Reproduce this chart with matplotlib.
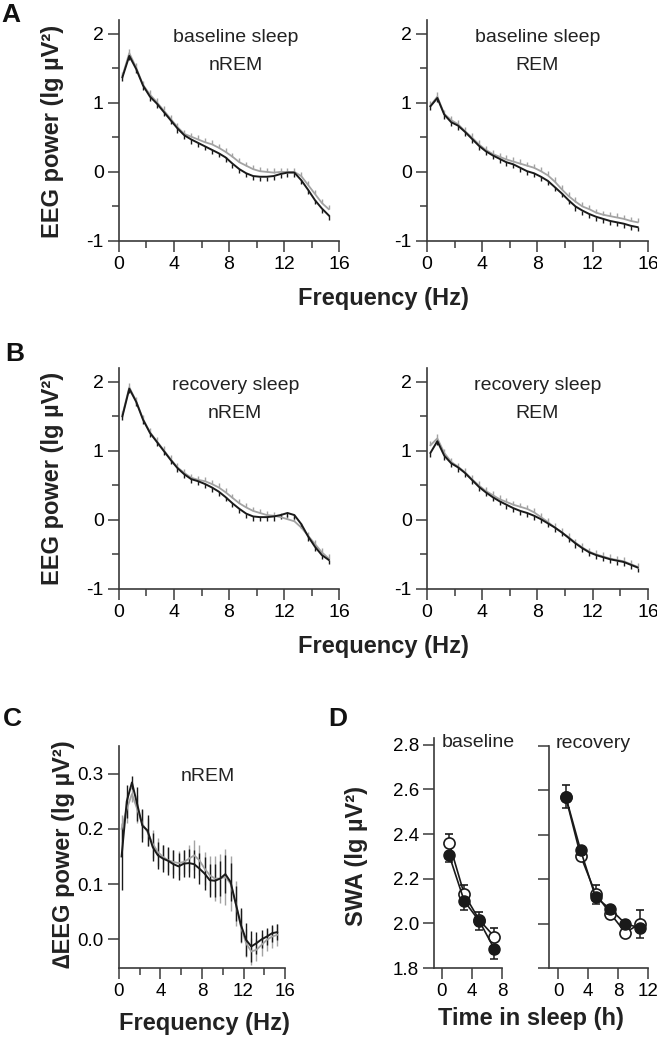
import numpy as np
import matplotlib.pyplot as plt
from matplotlib.ticker import MultipleLocator

plt.rcParams['font.family'] = ['Liberation Sans Narrow', 'Liberation Sans', 'DejaVu Sans']
plt.rcParams['axes.unicode_minus'] = False

# frequency bins (Hz)
freq = [0.25, 0.75, 1.25, 1.75, 2.25, 2.75, 3.25, 3.75, 4.25, 4.75, 5.25, 5.75, 6.25, 6.75, 7.25, 7.75,
        8.25, 8.75, 9.25, 9.75, 10.25, 10.75, 11.25, 11.75, 12.25, 12.75, 13.25, 13.75, 14.25, 14.75, 15.25]

# A: baseline sleep
base_nrem_black = [1.37, 1.68, 1.49, 1.25, 1.09, 0.99, 0.87, 0.75, 0.63, 0.53, 0.47, 0.42, 0.37, 0.32, 0.27, 0.21,
                   0.12, 0.04, -0.02, -0.06, -0.07, -0.07, -0.06, -0.03, -0.01, -0.01, -0.12, -0.26, -0.41, -0.53, -0.63]
base_nrem_gray = [1.39, 1.72, 1.51, 1.26, 1.12, 1.01, 0.89, 0.77, 0.65, 0.55, 0.51, 0.47, 0.43, 0.40, 0.35, 0.29,
                  0.22, 0.14, 0.09, 0.04, 0.01, 0.00, -0.01, 0.00, 0.00, 0.00, -0.06, -0.19, -0.32, -0.45, -0.54]
base_rem_black = [0.95, 1.07, 0.83, 0.72, 0.67, 0.58, 0.48, 0.38, 0.30, 0.24, 0.19, 0.14, 0.11, 0.06, 0.01, -0.02,
                  -0.07, -0.13, -0.22, -0.31, -0.41, -0.50, -0.56, -0.61, -0.65, -0.68, -0.71, -0.73, -0.75, -0.78, -0.80]
base_rem_gray = [0.96, 1.09, 0.84, 0.75, 0.69, 0.59, 0.50, 0.40, 0.32, 0.26, 0.22, 0.18, 0.15, 0.12, 0.09, 0.06,
                 0.01, -0.05, -0.14, -0.25, -0.35, -0.43, -0.50, -0.54, -0.59, -0.62, -0.64, -0.66, -0.68, -0.71, -0.73]

# B: recovery sleep
rec_nrem_black = [1.50, 1.90, 1.71, 1.45, 1.26, 1.13, 1.00, 0.87, 0.75, 0.66, 0.59, 0.56, 0.52, 0.47, 0.41, 0.33,
                  0.24, 0.16, 0.09, 0.05, 0.04, 0.04, 0.05, 0.07, 0.10, 0.07, -0.06, -0.24, -0.39, -0.51, -0.58]
rec_nrem_gray = [1.52, 1.92, 1.72, 1.46, 1.27, 1.14, 1.01, 0.88, 0.76, 0.68, 0.61, 0.58, 0.56, 0.52, 0.47, 0.40,
                 0.32, 0.24, 0.18, 0.13, 0.10, 0.07, 0.06, 0.04, 0.01, -0.02, -0.11, -0.23, -0.35, -0.47, -0.56]
rec_rem_black = [0.97, 1.14, 0.93, 0.82, 0.76, 0.68, 0.58, 0.48, 0.40, 0.33, 0.27, 0.22, 0.17, 0.13, 0.10, 0.06,
                 0.01, -0.05, -0.11, -0.18, -0.26, -0.34, -0.41, -0.47, -0.51, -0.54, -0.57, -0.59, -0.61, -0.65, -0.69]
rec_rem_gray = [1.08, 1.18, 0.97, 0.84, 0.77, 0.69, 0.59, 0.50, 0.42, 0.36, 0.30, 0.26, 0.22, 0.19, 0.16, 0.11,
                0.04, -0.03, -0.11, -0.18, -0.25, -0.33, -0.40, -0.46, -0.50, -0.53, -0.56, -0.58, -0.60, -0.64, -0.68]

sem_black = 0.06
sem_gray = 0.06

# C: recovery - baseline, nREM
delta_black = [0.150, 0.250, 0.284, 0.245, 0.206, 0.197, 0.167, 0.152, 0.146, 0.142, 0.136, 0.132, 0.137, 0.138, 0.136, 0.128,
               0.119, 0.107, 0.106, 0.110, 0.118, 0.104, 0.065, 0.026, -0.001, -0.013, -0.007, 0.000, 0.005, 0.011, 0.013]
delta_gray = [0.200, 0.236, 0.263, 0.236, 0.209, 0.194, 0.173, 0.158, 0.149, 0.143, 0.140, 0.138, 0.140, 0.146, 0.152, 0.143,
              0.128, 0.116, 0.110, 0.110, 0.113, 0.101, 0.065, 0.023, -0.007, -0.022, -0.019, -0.010, -0.001, 0.005, 0.008]
delta_black_err = [0.060, 0.030, 0.012, 0.030, 0.030, 0.028, 0.025, 0.025, 0.025, 0.025, 0.025, 0.025, 0.025, 0.025, 0.025, 0.028,
                   0.030, 0.030, 0.030, 0.032, 0.035, 0.035, 0.032, 0.030, 0.030, 0.028, 0.020, 0.016, 0.015, 0.015, 0.015]
delta_gray_err = [0.025, 0.025, 0.015, 0.025, 0.025, 0.025, 0.025, 0.025, 0.022, 0.022, 0.022, 0.022, 0.022, 0.025, 0.027, 0.027,
                  0.030, 0.035, 0.040, 0.045, 0.050, 0.050, 0.040, 0.030, 0.025, 0.025, 0.020, 0.020, 0.020, 0.020, 0.020]

# D: SWA time course
t_base = [1, 3, 5, 7]
swa_base_open = [2.36, 2.13, 2.015, 1.94]
swa_base_filled = [2.305, 2.10, 2.01, 1.885]
err_base_open = [0.04, 0.04, 0.035, 0.04]
err_base_filled = [0.03, 0.04, 0.04, 0.045]
t_rec = [1, 3, 5, 7, 9, 11]
swa_rec_open = [2.57, 2.305, 2.135, 2.045, 1.96, 2.00]
swa_rec_filled = [2.572, 2.33, 2.12, 2.065, 2.00, 1.98]
err_rec_open = [0.055, 0.02, 0.04, 0.02, 0.02, 0.06]
err_rec_filled = [0.05, 0.02, 0.03, 0.02, 0.02, 0.045]

BLACK = '#1a1a1a'
GRAY = '#a3a3a3'
AXC = '#3a3a3a'
TICK = 14


def style(ax):
    for s in ['top', 'right']:
        ax.spines[s].set_visible(False)
    for s in ['left', 'bottom']:
        ax.spines[s].set_color(AXC)
        ax.spines[s].set_linewidth(1.2)
    ax.tick_params(which='major', length=8, width=1.1, color=AXC, labelsize=TICK, pad=3)
    ax.tick_params(which='minor', length=5, width=1.1, color=AXC)


def spectrum(ax, black, gray, line1, line2, tx):
    n = len(freq)
    ax.errorbar(freq, gray, yerr=[np.zeros(n), np.full(n, sem_gray)], color=GRAY, lw=1.3,
                elinewidth=1.0, capsize=0)
    ax.errorbar(freq, black, yerr=[np.full(n, sem_black), np.zeros(n)], color=BLACK, lw=1.4,
                elinewidth=1.0, capsize=0)
    ax.set_xlim(0, 16)
    ax.set_ylim(-1, 2.2)
    ax.set_xticks([0, 4, 8, 12, 16])
    ax.set_yticks([-1, 0, 1, 2])
    ax.xaxis.set_minor_locator(MultipleLocator(2))
    ax.yaxis.set_minor_locator(MultipleLocator(0.5))
    style(ax)
    ax.text(tx, 1.95, line1, ha='center', va='center', fontsize=14, color='#222222')
    ax.text(tx, 1.54, line2, ha='center', va='center', fontsize=14, color='#222222')


fig = plt.figure(figsize=(6.57, 10.4), dpi=100)

axA1 = fig.add_axes([0.1811, 0.7683, 0.3350, 0.2125])
axA2 = fig.add_axes([0.6499, 0.7683, 0.3364, 0.2125])
axB1 = fig.add_axes([0.1811, 0.4337, 0.3350, 0.2125])
axB2 = fig.add_axes([0.6499, 0.4337, 0.3364, 0.2125])

spectrum(axA1, base_nrem_black, base_nrem_gray, 'baseline sleep', 'nREM', 8.5)
spectrum(axA2, base_rem_black, base_rem_gray, 'baseline sleep', 'REM', 8.0)
spectrum(axB1, rec_nrem_black, rec_nrem_gray, 'recovery sleep', 'nREM', 8.45)
spectrum(axB2, rec_rem_black, rec_rem_gray, 'recovery sleep', 'REM', 8.0)

# C
axC = fig.add_axes([0.1811, 0.0692, 0.2527, 0.2135])
axC.errorbar(freq, delta_gray, yerr=delta_gray_err, color=GRAY, lw=1.3, elinewidth=1.0, capsize=0)
axC.errorbar(freq, delta_black, yerr=delta_black_err, color=BLACK, lw=1.4, elinewidth=1.0, capsize=0)
axC.set_xlim(0, 16)
axC.set_ylim(-0.052, 0.35)
axC.set_xticks([0, 4, 8, 12, 16])
axC.set_yticks([0.0, 0.1, 0.2, 0.3])
axC.set_yticklabels(['0.0', '0.1', '0.2', '0.3'])
axC.xaxis.set_minor_locator(MultipleLocator(2))
style(axC)
axC.tick_params(labelsize=13.5)
axC.text(8.6, 0.295, 'nREM', ha='center', va='center', fontsize=14, color='#222222')

# D
axD1 = fig.add_axes([0.6613, 0.0692, 0.1027, 0.2212])
axD2 = fig.add_axes([0.8356, 0.0692, 0.1502, 0.2135])


def swa(ax, t, yo, yf, eo, ef):
    ax.errorbar(t, yo, yerr=[np.zeros(len(t)), eo], color=BLACK, lw=1.2, elinewidth=1.1,
                capsize=3, capthick=1.1, marker='o', ms=8, mfc='white', mec=BLACK, mew=1.2, zorder=2)
    ax.errorbar(t, yf, yerr=[ef, np.zeros(len(t))], color=BLACK, lw=1.2, elinewidth=1.1,
                capsize=3, capthick=1.1, marker='o', ms=8, mfc=BLACK, mec=BLACK, zorder=3)
    style(ax)
    ax.tick_params(labelsize=13.5)


swa(axD1, t_base, swa_base_open, swa_base_filled, err_base_open, err_base_filled)
swa(axD2, t_rec, swa_rec_open, swa_rec_filled, err_rec_open, err_rec_filled)
axD1.set_xlim(-0.95, 8)
axD1.set_ylim(1.8, 2.83)
axD1.set_xticks([0, 4, 8])
axD1.set_yticks([1.8, 2.0, 2.2, 2.4, 2.6, 2.8])
axD1.set_yticklabels(['1.8', '2.0', '2.2', '2.4', '2.6', '2.8'])
axD2.set_xlim(-1.25, 12)
axD2.set_ylim(1.8, 2.8)
axD2.set_xticks([0, 4, 8, 12])
axD2.set_yticks([1.8, 2.0, 2.2, 2.4, 2.6, 2.8])
axD2.set_yticklabels([])
axD1.text(4.8, 2.81, 'baseline', ha='center', va='center', fontsize=14, color='#222222')
axD2.text(4.7, 2.81, 'recovery', ha='center', va='center', fontsize=14, color='#222222')

# axis labels
lab = dict(fontsize=17, fontweight='bold', color='#222222', ha='center', va='center')
fig.text(0.0806, 0.874, 'EEG power (lg µV²)', rotation=90, **lab)
fig.text(0.0806, 0.540, 'EEG power (lg µV²)', rotation=90, **lab)
fig.text(0.0959, 0.1788, '∆EEG power (lg µV²)', rotation=90, **lab)
fig.text(0.5419, 0.1769, 'SWA (lg µV²)', rotation=90, **lab)
fig.text(0.583, 0.713, 'Frequency (Hz)', **lab)
fig.text(0.583, 0.378, 'Frequency (Hz)', **lab)
fig.text(0.3105, 0.0163, 'Frequency (Hz)', **lab)
fig.text(0.808, 0.0202, 'Time in sleep (h)', **lab)

# panel letters
let = dict(fontsize=19, fontweight='bold', color='#111111', ha='left', va='center')
fig.text(0.002, 0.9856, 'A', **let)
fig.text(0.008, 0.6596, 'B', **let)
fig.text(0.005, 0.3091, 'C', **let)
fig.text(0.499, 0.3087, 'D', **let)

fig.savefig('out.png', dpi=100)
